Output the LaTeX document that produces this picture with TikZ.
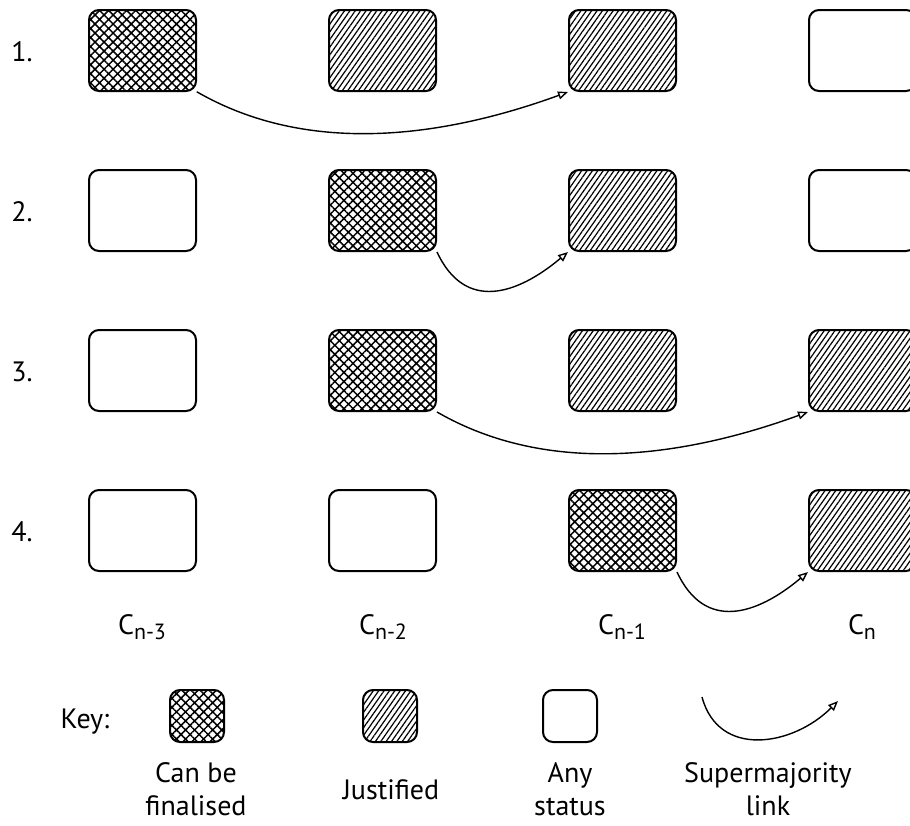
\documentclass[tikz,border=0pt]{standalone}
\usepackage{fontspec}
\setmainfont{PT Sans}
\usepackage{tikz}
\usetikzlibrary{arrows.meta, patterns.meta}

\newcommand{\csub}[1]{C\raisebox{-0.35ex}{\fontsize{11}{12}\selectfont #1}}

\begin{document}
\begin{tikzpicture}[
  x=0.5pt, y=-0.5pt,
  blk/.style={draw, line width=1pt, rounded corners=5pt, minimum width=53.5pt, minimum height=40.5pt},
  fin/.style={blk, pattern={Hatch[angle=45, distance=3.2pt, line width=0.75pt]}},
  just/.style={blk, pattern={Lines[angle=55, distance=2.2pt, line width=0.6pt]}},
  keyblk/.style={minimum width=27pt, minimum height=26pt},
  lbl/.style={font=\fontsize{14}{16.5}\selectfont, align=center},
  link/.style={-{Triangle[open, length=5pt, width=4pt]}, line width=0.7pt}
]
  \useasboundingbox (0,0) rectangle (910,825);

  % Row labels
  \node[lbl] (n1) at (22,52)  {1.};
  \node[lbl] (n2) at (22,212) {2.};
  \node[lbl] (n3) at (22,372) {3.};
  \node[lbl] (n4) at (22,532) {4.};

  % Row 1
  \node[fin]  (r1c1) at (142.5,50.5) {};
  \node[just] (r1c2) at (382.5,50.5) {};
  \node[just] (r1c3) at (622.5,50.5) {};
  \node[blk]  (r1c4) at (862.5,50.5) {};
  \draw[link] (r1c1.south east) to[out=-30, in=-160, looseness=0.9] (r1c3.south west);

  % Row 2
  \node[blk]  (r2c1) at (142.5,210.5) {};
  \node[fin]  (r2c2) at (382.5,210.5) {};
  \node[just] (r2c3) at (622.5,210.5) {};
  \node[blk]  (r2c4) at (862.5,210.5) {};
  \draw[link] (r2c2.south east) to[out=-65, in=-140, looseness=1.3] (r2c3.south west);

  % Row 3
  \node[blk]  (r3c1) at (142.5,370.5) {};
  \node[fin]  (r3c2) at (382.5,370.5) {};
  \node[just] (r3c3) at (622.5,370.5) {};
  \node[just] (r3c4) at (862.5,370.5) {};
  \draw[link] (r3c2.south east) to[out=-30, in=-160, looseness=0.9] (r3c4.south west);

  % Row 4
  \node[blk]  (r4c1) at (142.5,530.5) {};
  \node[blk]  (r4c2) at (382.5,530.5) {};
  \node[fin]  (r4c3) at (622.5,530.5) {};
  \node[just] (r4c4) at (862.5,530.5) {};
  \draw[link] (r4c3.south east) to[out=-65, in=-140, looseness=1.3] (r4c4.south west);

  % Column labels
  \node[lbl] (cn3) at (142,627) {\csub{n-3}};
  \node[lbl] (cn2) at (383,627) {\csub{n-2}};
  \node[lbl] (cn1) at (622,627) {\csub{n-1}};
  \node[lbl] (cn0) at (862,627) {\csub{n}};

  % Key
  \node[lbl] (key) at (85,722) {Key:};
  \node[fin, keyblk]  (kfin)  at (197,716) {};
  \node[just, keyblk] (kjust) at (390,716) {};
  \node[blk, keyblk]  (kany)  at (570,716) {};
  \coordinate (ka) at (702,697);
  \coordinate (kb) at (838,701);
  \draw[link] (ka) to[out=-75, in=-135, looseness=1.2] (kb);

  \node[lbl] (tfin)  at (196,789) {Can be\\finalised};
  \node[lbl] (tjust) at (391,790) {Justified};
  \node[lbl] (tany)  at (570,789) {Any\\status};
  \node[lbl] (tlink) at (768,789) {Supermajority\\link};

\end{tikzpicture}
\end{document}
